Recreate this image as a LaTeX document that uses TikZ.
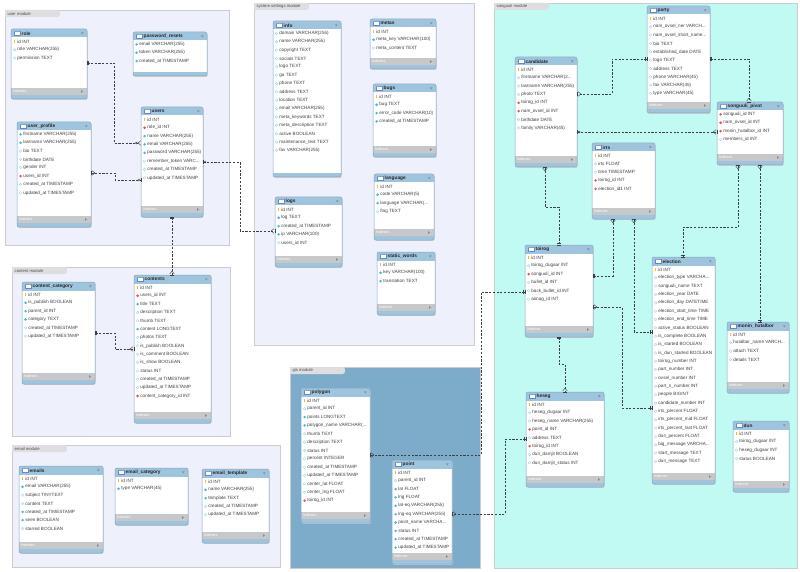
\documentclass[tikz,border=0pt]{standalone}
\usepackage{fontspec}
\setmainfont{Liberation Sans}
\usetikzlibrary{arrows.meta,calc,positioning}

\definecolor{hdrblue}{RGB}{158,196,222}
\definecolor{frameblue}{RGB}{130,166,196}
\definecolor{idxgray}{RGB}{198,200,202}
\definecolor{nncyan}{RGB}{72,186,208}
\definecolor{fkred}{RGB}{222,86,86}
\definecolor{keyyellow}{RGB}{240,196,20}
\definecolor{lavbg}{RGB}{238,240,252}
\definecolor{cyanbg}{RGB}{192,250,242}
\definecolor{gisbg}{RGB}{124,172,202}
\definecolor{tabgray}{RGB}{222,222,224}

\tikzset{
  tableframe/.style={draw=frameblue,line width=0.5pt,rounded corners=2pt,inner sep=0pt,outer sep=0pt},
  modulebox/.style={draw=black!20,line width=0.4pt,inner sep=0pt,outer sep=0pt},
  moduletxt/.style={inner sep=0pt,font=\fontsize{4.2}{5}\selectfont,text=black!70},
  titletxt/.style={anchor=west,inner sep=0pt,font=\fontsize{4.8}{5}\selectfont\bfseries,text=black!85},
  fieldtxt/.style={anchor=west,inner sep=0pt,font=\fontsize{4.6}{5}\selectfont,text=black!75},
  idxtxt/.style={anchor=west,inner sep=0pt,font=\fontsize{3.8}{4}\selectfont,text=white},
  iconline/.style={draw=frameblue!80!blue,line width=0.35pt},
  conn/.style={draw=black!75,line width=0.45pt,dash pattern=on 2.2pt off 1.5pt},
  erone/.tip={Bar[width=4pt,sep=0.8pt]Bar[width=4pt]},
  ercrow/.tip={Straight Barb[reversed,length=2.6pt,width=4.6pt,sep=0.5pt]Bar[width=4.6pt]},
  ercirc/.tip={Circle[open,length=2.4pt,sep=0.5pt]Bar[width=4pt]},
  erocrow/.tip={Circle[open,length=2.4pt,sep=0.3pt]Straight Barb[reversed,length=2.6pt,width=4.6pt]},
}

% cut-off text in a field
\newcommand\trunc{...}

% field markers
\newcommand\fldk[2]{\fill[keyyellow] (#1-0.6,#2-1.7) rectangle ++(1.2,3.2);}
\newcommand\fldn[2]{\fill[nncyan] (#1,#2-1.4) -- (#1+1.4,#2) -- (#1,#2+1.4) -- (#1-1.4,#2) -- cycle;}
\newcommand\fldo[2]{\draw[nncyan!60,fill=white,line width=0.3pt] (#1,#2-1.3) -- (#1+1.3,#2) -- (#1,#2+1.3) -- (#1-1.3,#2) -- cycle;}
\newcommand\fldf[2]{\fill[fkred] (#1,#2-1.4) -- (#1+1.4,#2) -- (#1,#2+1.4) -- (#1-1.4,#2) -- cycle;}

% module area: name, x, y, width, height, fill, label
\newcommand\dbmodule[7]{%
  \node[modulebox,fill=#6,minimum width=#4pt,minimum height=#5pt,anchor=north west] (#1) at (#2,#3) {};
  \fill[tabgray,rounded corners=2.5pt] (#2,#3) rectangle ++(55,7);
  \fill[tabgray] (#2,#3) rectangle ++(6,7);
  \node[moduletxt,anchor=west] (#1-label) at (#2+2.5,#3+3.6) {#7};
}

% table: name, x, y, width, height, title, indexes bar (1/0), fields
\newcommand\dbtable[8]{%
  \fill[black!20,rounded corners=2pt] (#2+0.7,#3+0.9) rectangle ++(#4,#5);
  \begin{scope}
    \clip[rounded corners=2pt] (#2,#3) rectangle ++(#4,#5);
    \fill[white] (#2,#3) rectangle ++(#4,#5);
    \fill[hdrblue] (#2,#3) rectangle ++(#4,8.5);
    \fill[hdrblue] (#2,#3+#5-4) rectangle ++(#4,4);
    \ifnum#7=1
      \fill[idxgray] (#2,#3+#5-11) rectangle ++(#4,7);
    \fi
  \end{scope}
  \node[tableframe,minimum width=#4pt,minimum height=#5pt,anchor=north west] (#1) at (#2,#3) {};
  \draw[iconline,fill=white] (#2+3.2,#3+2.1) rectangle ++(5.6,4.4);
  \fill[frameblue] (#2+3.2,#3+2.1) rectangle ++(5.6,1.2);
  \node[titletxt] (#1-title) at (#2+10.5,#3+4.4) {#6};
  \fill[black!45] (#2+#4-6,#3+3.3) -- ++(2.6,0) -- ++(-1.3,2.2) -- cycle;
  \ifnum#7=1
    \node[idxtxt] (#1-idx) at (#2+2,#3+#5-7.5) {Indexes};
    \fill[black!45] (#2+#4-6,#3+#5-9) -- ++(0,3) -- ++(2,-1.5) -- cycle;
  \fi
  \foreach \fkind/\ftext [count=\i from 0] in {#8} {
    \pgfmathsetmacro\fx{#2+3.6}
    \pgfmathsetmacro\fy{#3+12.4+8.35*\i}
    \csname fld\fkind\endcsname{\fx}{\fy}
    \node[fieldtxt] (#1-\i) at (#2+6.2,\fy) {\ftext};
  }
}

\begin{document}
\begin{tikzpicture}[x=1pt,y=-1pt]
\useasboundingbox[fill=white] (0,0) rectangle (800,572);

% module areas
\dbmodule{usermod}{5}{10}{224}{235}{lavbg}{user module}
\dbmodule{sysmod}{254}{3}{220}{342}{lavbg}{system settings module}
\dbmodule{songmod}{494}{3}{303}{565}{cyanbg}{songuuli module}
\dbmodule{contmod}{12}{267}{218}{169}{lavbg}{content module}
\dbmodule{mailmod}{12}{445}{268}{122}{lavbg}{email module}
\dbmodule{gismod}{290}{367}{190}{201}{gisbg}{gis module}

% user module
\dbtable{role}{11}{29}{76}{70}{role}{1}{k/id INT, o/role VARCHAR(255), o/permission TEXT}
\dbtable{pwreset}{133}{32}{74}{44}{password\_resets}{0}{n/email VARCHAR(255), n/token VARCHAR(255), n/created\_at TIMESTAMP}
\dbtable{users}{141}{107}{62}{110}{users}{1}{k/id INT, f/role\_id INT, n/name VARCHAR(255), n/email VARCHAR(255),
  n/password VARCHAR(255), o/remember\_token VARC\trunc{}, o/created\_at TIMESTAMP, o/updated\_at TIMESTAMP}
\dbtable{profile}{17}{122}{74}{105}{user\_profile}{1}{n/firstname VARCHAR(255), n/lastname VARCHAR(255), o/bio TEXT,
  o/birthdate DATE, o/gender INT, f/users\_id INT, o/created\_at TIMESTAMP, o/updated\_at TIMESTAMP}

% system settings module
\dbtable{info}{273}{21}{68}{156}{info}{0}{o/domain VARCHAR(255), o/name VARCHAR(255), o/copyright TEXT, o/socials TEXT,
  o/logo TEXT, o/ga TEXT, o/phone TEXT, o/address TEXT, o/location TEXT, o/email VARCHAR(255), o/meta\_keywords TEXT,
  o/meta\_description TEXT, o/active BOOLEAN, o/maintenance\_text TEXT, o/fav VARCHAR(255)}
\dbtable{metas}{370}{19}{66}{50}{metas}{1}{k/id INT, n/meta\_key VARCHAR(100), o/meta\_content TEXT}
\dbtable{bugs}{373}{84}{63}{73}{bugs}{1}{k/id INT, n/bug TEXT, n/error\_code VARCHAR(10), n/created\_at TIMESTAMP}
\dbtable{logs}{275}{197}{67}{70}{logs}{1}{k/id INT, n/log TEXT, n/created\_at TIMESTAMP, n/ip VARCHAR(100), o/users\_id INT}
\dbtable{language}{374}{174}{60}{66}{language}{1}{k/id INT, n/code VARCHAR(5), n/language VARCHAR(\trunc{}, o/flag TEXT}
\dbtable{words}{377}{252}{58}{63}{static\_words}{1}{k/id INT, n/key VARCHAR(100), n/translation TEXT}

% content module
\dbtable{category}{22}{282}{73}{102}{content\_category}{1}{k/id INT, n/is\_publish BOOLEAN, n/parent\_id INT,
  n/category TEXT, o/created\_at TIMESTAMP, o/updated\_at TIMESTAMP}
\dbtable{contents}{134}{275}{77}{148}{contents}{1}{k/id INT, f/users\_id INT, n/title TEXT, o/description TEXT,
  o/thumb TEXT, n/content LONGTEXT, o/photos TEXT, o/is\_publish BOOLEAN, o/is\_comment BOOLEAN, o/is\_show BOOLEAN,
  o/status INT, o/created\_at TIMESTAMP, o/updated\_at TIMESTAMP, f/content\_category\_id INT}

% email module
\dbtable{emails}{19}{466}{84}{87}{emails}{1}{k/id INT, n/email VARCHAR(255), o/subject TINYTEXT, o/content TEXT,
  n/created\_at TIMESTAMP, n/seen BOOLEAN, o/starred BOOLEAN}
\dbtable{mailcat}{115}{468}{73}{57}{email\_category}{1}{k/id INT, n/type VARCHAR(45)}
\dbtable{mailtpl}{202}{469}{67}{74}{email\_template}{1}{k/id INT, n/name VARCHAR(255), n/template TEXT,
  o/created\_at TIMESTAMP, o/updated\_at TIMESTAMP}

% gis module
\dbtable{polygon}{301}{388}{69}{135}{polygon}{1}{k/id INT, o/parent\_id INT, n/points LONGTEXT, n/polygon\_name VARCHAR(\trunc{},
  o/thumb TEXT, o/description TEXT, o/status INT, o/percent INTEGER, o/created\_at TIMESTAMP, o/updated\_at TIMESTAMP,
  o/center\_lat FLOAT, o/center\_lng FLOAT, f/toirog\_id INT}
\dbtable{point}{392}{460}{60}{104}{point}{1}{k/id INT, o/parent\_id INT, n/lat FLOAT, n/lng FLOAT, n/lat-eq VARCHAR(255),
  n/lng-eq VARCHAR(255), n/point\_name VARCHA\trunc{}, n/status INT, n/created\_at TIMESTAMP, n/updated\_at TIMESTAMP}

% songuuli module
\dbtable{party}{647}{6}{63}{107}{party}{1}{k/id INT, o/nam\_ovsel\_ner VARCH\trunc{}, o/nam\_ovsel\_short\_name\trunc{}, o/bio TEXT,
  o/established\_date DATE, o/logo TEXT, o/address TEXT, o/phone VARCHAR(45), o/fax VARCHAR(45), o/type VARCHAR(45)}
\dbtable{candidate}{515}{57}{62}{110}{candidate}{1}{k/id INT, o/firstname VARCHAR(2\trunc{}, o/lastname VARCHAR(255),
  o/photo TEXT, f/toirog\_id INT, f/nam\_ovsel\_id INT, o/birthdate DATE, o/family VARCHAR(45)}
\dbtable{pivot}{717}{102}{66}{63}{songuuli\_pivot}{1}{f/songuuli\_id INT, f/nam\_ovsel\_id INT, f/monin\_hutalbor\_id INT,
  o/members\_id INT}
\dbtable{irts}{592}{143}{63}{76}{irts}{1}{k/id INT, o/irts FLOAT, o/time TIMESTAMP, f/toirog\_id INT, f/election\_id1 INT}
\dbtable{toirog}{525}{245}{68}{92}{toirog}{1}{k/id INT, o/toirog\_dugaar INT, f/songuuli\_id INT, o/bullet\_id INT,
  o/back\_bullet\_id INT, o/aimag\_id INT}
\dbtable{heseg}{526}{392}{78}{95}{heseg}{1}{k/id INT, o/heseg\_dugaar INT, o/heseg\_name VARCHAR(255), f/point\_id INT,
  o/address TEXT, f/toirog\_id INT, o/dun\_damjit BOOLEAN, o/dun\_damjit\_status INT}
\dbtable{election}{652}{257}{63}{227}{election}{1}{k/id INT, o/election\_type VARCHA\trunc{}, o/songuuli\_name TEXT,
  o/election\_year DATE, o/election\_day DATETIME, o/election\_start\_time TIME, o/election\_end\_time TIME,
  o/active\_status BOOLEAN, o/is\_complete BOOLEAN, o/is\_started BOOLEAN, o/is\_dun\_started BOOLEAN,
  o/toirog\_number INT, o/part\_number INT, o/ovsel\_number INT, o/part\_n\_number INT, o/people BIGINT,
  o/candidate\_number INT, o/irts\_percent FLOAT, o/irts\_percent\_mid FLOAT, o/irts\_percent\_last FLOAT,
  o/dun\_percent FLOAT, o/big\_message VARCHA\trunc{}, o/start\_message TEXT, o/dun\_message TEXT}
\dbtable{monin}{727}{322}{62}{71}{monin\_hutalbor}{1}{k/id INT, o/hutalbor\_name VARCH\trunc{}, o/attach TEXT, o/details TEXT}
\dbtable{dun}{733}{421}{56}{71}{dun}{1}{k/id INT, o/toirog\_dugaar INT, o/heseg\_dugaar INT, o/status BOOLEAN}

% relations
\draw[conn,{erone}-{erocrow}] ($(role.north east)+(0,34)$) -- ++(27,0) |- ($(users.north west)+(0,36)$);
\draw[conn,{ercrow}-{ercirc}] ($(profile.north east)+(0,51)$) -- ++(24,0) |- ($(users.north west)+(0,73)$);
\draw[conn,{ercirc}-{ercrow}] ($(users.north east)+(0,55)$) -- ++(37,0) |- ($(logs.north west)+(0,34)$);
\draw[conn,{erone}-{ercrow}] (users.south) -- (users.south |- contents.north);
\draw[conn,{erone}-{ercrow}] ($(category.north east)+(0,51)$) -- ++(20,0) |- ($(contents.north west)+(0,74)$);
\draw[conn,{erone}-{ercrow}] ($(toirog.north west)+(0,47)$) -- ++(-44,0) |- ($(polygon.north east)+(0,67)$);
\draw[conn,{erone}-{ercrow}] ($(heseg.north west)+(0,47)$) -- ++(-21,0) |- ($(point.north east)+(0,54)$);
\draw[conn,{erone}-{ercrow}] ($(party.north west)+(0,53)$) -- ++(-35,0) |- ($(candidate.north east)+(0,37)$);
\draw[conn,{erone}-{ercrow}] ($(party.north east)+(0,53)$) -| ($(pivot.north west)+(32,0)$);
\draw[conn,{ercirc}-{ercrow}] ($(candidate.north east)+(0,75)$) -- ($(pivot.north west)+(0,30)$);
\draw[conn,{ercrow}-{erone}] ($(candidate.south west)+(30,0)$) -- ++(0,40) -| ($(toirog.north west)+(34,0)$);
\draw[conn,{ercrow}-{erone}] ($(irts.south west)+(21,0)$) |- ($(toirog.north east)+(0,31)$);
\draw[conn,{ercrow}-{erone}] ($(irts.south west)+(42,0)$) |- ($(election.north west)+(0,75)$);
\draw[conn,{ercrow}-{erone}] ($(pivot.south west)+(21,0)$) -- ++(0,62) -| ($(election.north west)+(31,0)$);
\draw[conn,{ercrow}-{erone}] ($(pivot.south west)+(43,0)$) -- ($(monin.north west)+(33,0)$);
\draw[conn,{ercrow}-{erone}] ($(toirog.north east)+(0,62)$) -- ++(29,0) |- ($(election.north west)+(0,151)$);
\draw[conn,{erone}-{ercrow}] ($(toirog.south west)+(34,0)$) -- ++(0,27) -| ($(heseg.north west)+(39,0)$);
\end{tikzpicture}
\end{document}
